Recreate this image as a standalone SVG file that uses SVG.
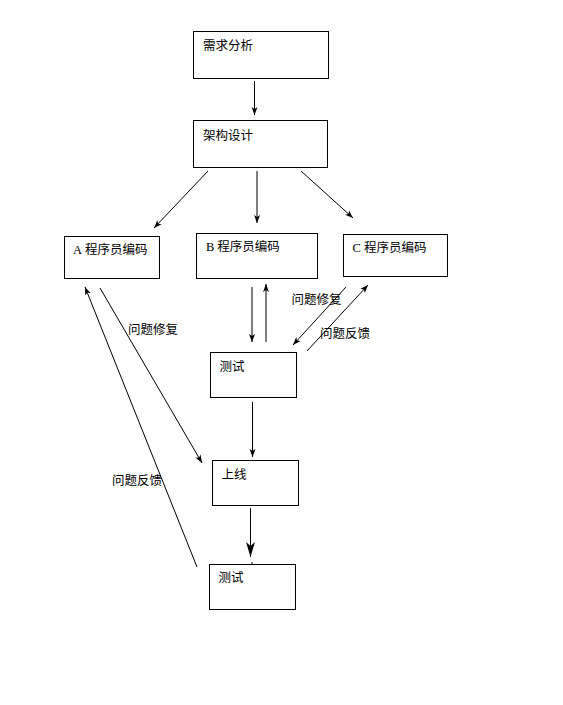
<svg xmlns="http://www.w3.org/2000/svg" width="563" height="705" viewBox="0 0 563 705">
<style>
.box{fill:#fff;stroke:#000;stroke-width:1}
.t{font-family:"Liberation Serif","Noto Sans CJK SC",serif;font-size:12.5px;fill:#000}
.c{stroke:#000;stroke-width:1;fill:none}
.a{marker-end:url(#ah)}
.b{marker-end:url(#ahb)}
</style>
<defs>
<marker id="ah" markerUnits="userSpaceOnUse" markerWidth="10" markerHeight="8" refX="8" refY="3" orient="auto" overflow="visible">
<path d="M0,0 L8,3 L0,6 L2,3 z" fill="#000"/>
</marker>
<marker id="ahb" markerUnits="userSpaceOnUse" markerWidth="16" markerHeight="10" refX="15" refY="4.5" orient="auto" overflow="visible">
<path d="M0,0 L15,4.5 L0,9 L4,4.5 z" fill="#000"/>
</marker>
</defs>
<rect width="563" height="705" fill="#fff"/>
<g id="connectors">
<line class="c a" x1="254.5" y1="81" x2="254.5" y2="115"/>
<line class="c a" x1="208" y1="171" x2="154" y2="228"/>
<line class="c a" x1="257" y1="171" x2="257" y2="223"/>
<line class="c a" x1="301" y1="171" x2="353" y2="218"/>
<line class="c a" x1="252" y1="287" x2="252" y2="342"/>
<line class="c a" x1="266" y1="342" x2="266" y2="284"/>
<line class="c a" x1="346" y1="287" x2="293" y2="345"/>
<line class="c a" x1="307" y1="351" x2="368" y2="285"/>
<line class="c a" x1="100" y1="288" x2="202" y2="463"/>
<line class="c a" x1="197" y1="567" x2="85" y2="287"/>
<line class="c a" x1="252.5" y1="402" x2="252.5" y2="457"/>
<line class="c b" x1="250.5" y1="508" x2="250.5" y2="557"/>
<line class="c" x1="252" y1="562" x2="252" y2="564"/>
</g>
<g id="n1"><rect class="box" x="193.5" y="31.5" width="135" height="47"/><text class="t" x="203" y="50">需求分析</text></g>
<g id="n2"><rect class="box" x="193.5" y="120.5" width="134" height="47"/><text class="t" x="203" y="139.5">架构设计</text></g>
<g id="nA"><rect class="box" x="64.5" y="236.5" width="95" height="42"/><text class="t" x="73" y="253.5">A<tspan dx="3">程序员编码</tspan></text></g>
<g id="nB"><rect class="box" x="196.5" y="233.5" width="121" height="45"/><text class="t" x="206" y="251">B<tspan dx="3">程序员编码</tspan></text></g>
<g id="nC"><rect class="box" x="343.5" y="234.5" width="104" height="42"/><text class="t" x="352.5" y="251.5">C 程序员编码</text></g>
<g id="n3"><rect class="box" x="210.5" y="352.5" width="86" height="45"/><text class="t" x="219.5" y="371">测试</text></g>
<g id="n4"><rect class="box" x="212.5" y="460.5" width="86" height="45"/><text class="t" x="221.5" y="478.5">上线</text></g>
<g id="n5"><rect class="box" x="209.5" y="564.5" width="86" height="45"/><text class="t" x="218.5" y="582">测试</text></g>
<g id="labels">
<text class="t" x="291.5" y="303.5">问题修复</text>
<text class="t" x="320" y="338">问题反馈</text>
<text class="t" x="128" y="334">问题修复</text>
<text class="t" x="112" y="485">问题反馈</text>
</g>
</svg>
